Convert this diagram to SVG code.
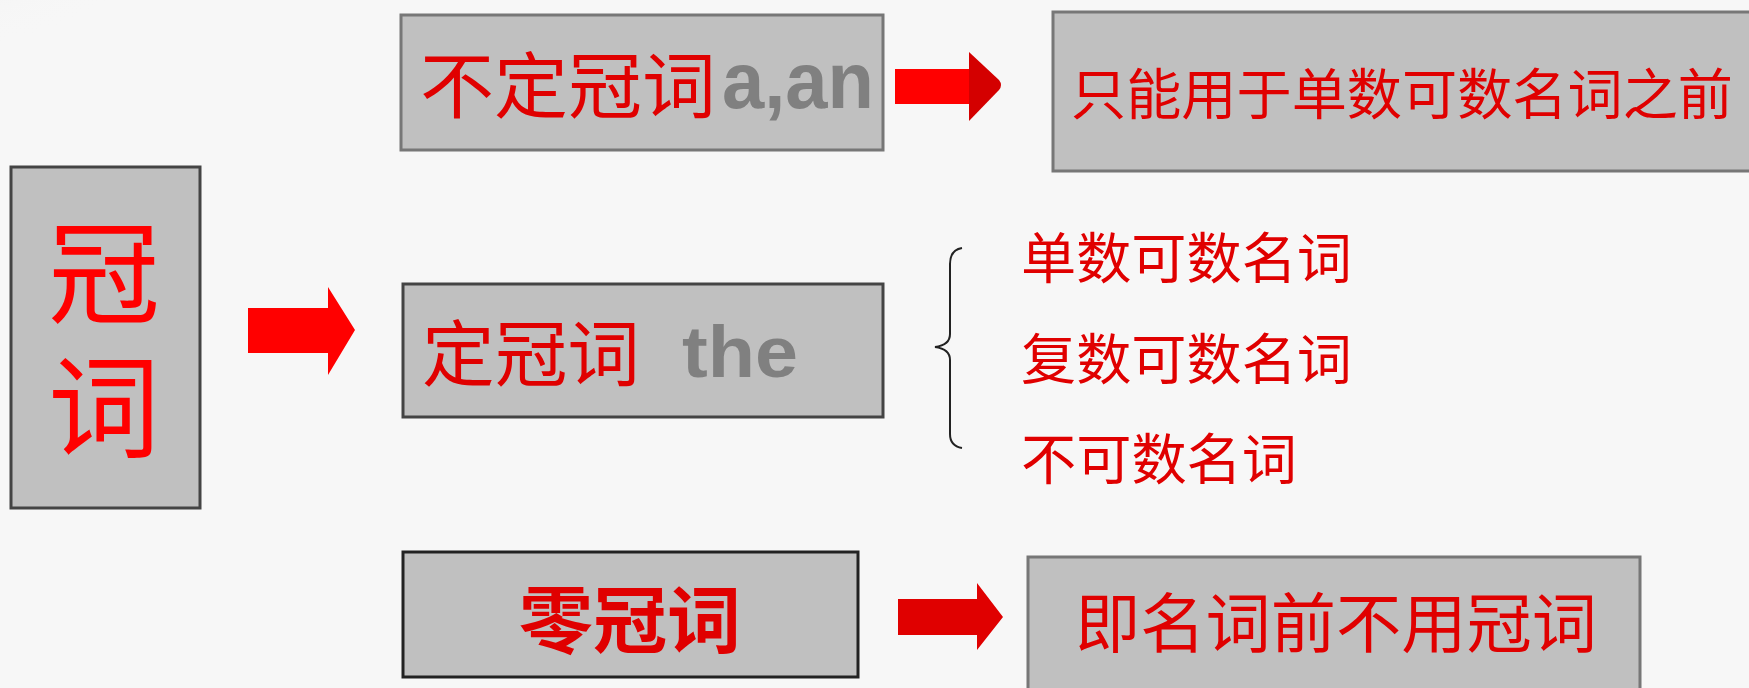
<svg xmlns="http://www.w3.org/2000/svg" width="1749" height="688" viewBox="0 0 1749 688">
<defs>
<radialGradient id="haze" cx="0" cy="0" r="1">
<stop offset="0" stop-color="#e6e6e6"/>
<stop offset="1" stop-color="#f7f7f7" stop-opacity="0"/>
</radialGradient>
<style>
.box{fill:#c0c0c0;stroke:#777;stroke-width:3}
.dark{stroke:#444}
.cjk{font-family:"Noto Sans CJK SC","Noto Sans",sans-serif;fill:#e00000}
.lat{font-family:"Liberation Sans",Arial,sans-serif;font-weight:bold;fill:#808080}
</style>
</defs>
<rect width="1749" height="688" fill="#f7f7f7"/>
<ellipse cx="0" cy="0" rx="160" ry="60" fill="url(#haze)"/>

<g id="node-guanci">
<rect class="box dark" x="11" y="167" width="189" height="341"/>
<text class="cjk" x="104" y="216" font-size="112" style="fill:#ff0000;writing-mode:vertical-rl;letter-spacing:22px">冠词</text>
</g>

<g id="node-budingguanci">
<rect class="box" x="401" y="15" width="482" height="135"/>
<text class="cjk" x="420" y="112" font-size="72" textLength="296" lengthAdjust="spacingAndGlyphs">不定冠词</text>
<text class="lat" x="722" y="108" font-size="80" textLength="152" lengthAdjust="spacingAndGlyphs">a,an</text>
</g>

<g id="node-budingguanci-use">
<rect class="box" x="1053" y="12" width="710" height="159"/>
<text class="cjk" x="1071" y="114" font-size="55" textLength="662" lengthAdjust="spacingAndGlyphs">只能用于单数可数名词之前</text>
</g>

<g id="node-dingguanci">
<rect class="box dark" x="403" y="284" width="480" height="133"/>
<text class="cjk" x="422" y="380" font-size="72" textLength="218" lengthAdjust="spacingAndGlyphs">定冠词</text>
<text class="lat" x="682" y="377" font-size="72" textLength="116" lengthAdjust="spacingAndGlyphs">the</text>
</g>

<g id="node-dingguanci-list">
<text class="cjk" x="1021" y="278" font-size="55" textLength="331" lengthAdjust="spacingAndGlyphs">单数可数名词</text>
<text class="cjk" x="1021" y="379" font-size="55" textLength="331" lengthAdjust="spacingAndGlyphs">复数可数名词</text>
<text class="cjk" x="1021" y="479" font-size="55" textLength="276" lengthAdjust="spacingAndGlyphs">不可数名词</text>
</g>

<g id="node-lingguanci">
<rect class="box" x="403" y="552" width="455" height="125" style="stroke:#222"/>
<text class="cjk" x="519" y="647" font-size="73" font-weight="bold" textLength="222" lengthAdjust="spacingAndGlyphs">零冠词</text>
</g>

<g id="node-lingguanci-use">
<rect class="box" x="1028" y="557" width="612" height="145"/>
<text class="cjk" x="1075" y="647" font-size="65" textLength="522" lengthAdjust="spacingAndGlyphs">即名词前不用冠词</text>
</g>

<g id="connectors">
<polygon points="248,308 328,308 328,287 355,330 328,375 328,353 248,353" fill="#ff0000"/>
<rect x="895" y="69" width="75" height="35" fill="#ff0000"/>
<path d="M969,52 L999,80 Q1003,85 999,90 L969,121 Z" fill="#d40000"/>
<polygon points="898,599 977,599 977,583 1003,617 977,650 977,635 898,635" fill="#e00000"/>
<path d="M962,248 Q950,250 950,264 L950,334 Q950,345 935,347 Q950,349 950,360 L950,434 Q950,446 962,448" fill="none" stroke="#222" stroke-width="2"/>
</g>
</svg>
